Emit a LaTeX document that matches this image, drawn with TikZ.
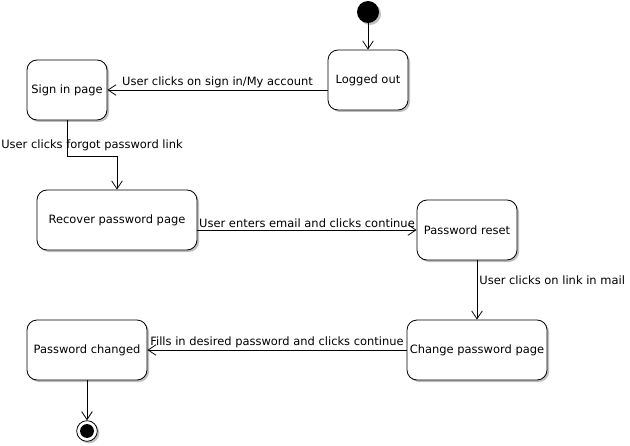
\documentclass[tikz,border=0pt]{standalone}
\usepackage{fontspec}
\setmainfont{DejaVu Sans}
\usetikzlibrary{arrows.meta,shadows}

\begin{document}
\begin{tikzpicture}[x=0.75pt,y=-0.75pt,
        font=\fontsize{8.6pt}{10pt}\selectfont,
        shade/.style={drop shadow={shadow xshift=1.5pt,shadow yshift=-1.5pt,fill=black,opacity=.25}},
        statebox/.style={draw,line width=.6pt,rounded corners=7.5pt,fill=white,minimum height=45pt,inner sep=2pt,shade},
        arr/.style={line width=.6pt,-{Straight Barb[length=6pt,width=8pt]}},
        lbl/.style={inner sep=1.5pt}]
        \useasboundingbox (0,0) rectangle (630,445);

        % start and end
        \node[circle,fill=black,minimum size=16.5pt,inner sep=0pt,shade] (start) at (368,12) {};
        \node[circle,draw,line width=.6pt,fill=white,minimum size=15.5pt,inner sep=0pt,shade] (stop) at (87,431) {};
        \fill (stop.center) circle (5.2pt);

        % states
        \node[statebox,minimum width=60pt]  (loggedout) at (368,80)  {Logged out};
        \node[statebox,minimum width=60pt]  (signin)    at (67,90)   {Sign in page};
        \node[statebox,minimum width=120pt] (recover)   at (117,220) {Recover password page};
        \node[statebox,minimum width=75pt]  (reset)     at (467,230) {Password reset};
        \node[statebox,minimum width=105pt] (change)    at (477,350) {Change password page};
        \node[statebox,minimum width=90pt]  (changed)   at (87,350)  {Password changed};

        % transitions
        \draw[arr] (start) -- (loggedout.north);
        \draw[arr] (loggedout.west |- signin.east) -- (signin.east)
            node[lbl,above,midway] (lsignin) {User clicks on sign in/My account};
        \draw[arr] (signin.south) -- ++(0,36) -| (recover.north);
        \node[lbl] (lforgot) at (92,145) {User clicks forgot password link};
        \draw[arr] (recover.east |- reset.west) -- (reset.west)
            node[lbl,above,midway] (lemail) {User enters email and clicks continue};
        \draw[arr] (reset.south -| change.north) -- (change.north)
            node[lbl,right,pos=.33] (lmail) {User clicks on link in mail};
        \draw[arr] (change.west) -- (changed.east)
            node[lbl,above,midway] (lfills) {Fills in desired password and clicks continue};
        \draw[arr] (changed.south) -- (stop);
    \end{tikzpicture}
\end{document}
